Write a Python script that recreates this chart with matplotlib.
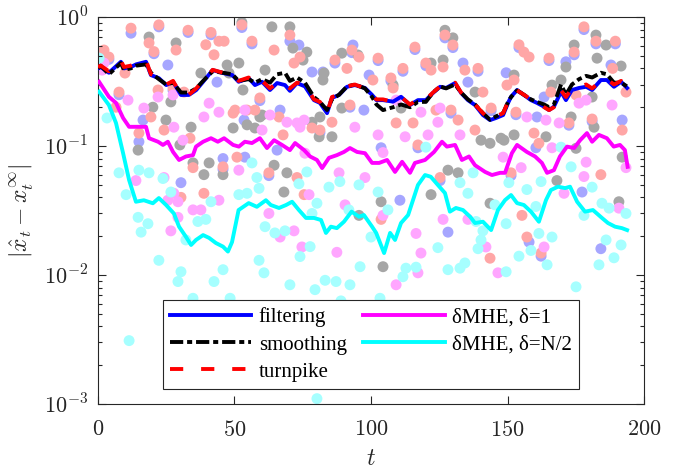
import numpy as np
import matplotlib
matplotlib.use('Agg')
import matplotlib.pyplot as plt
from matplotlib.ticker import FixedLocator, LogLocator, FuncFormatter, NullFormatter
from matplotlib.lines import Line2D
from matplotlib.font_manager import FontProperties

# ---------------- data ----------------
t_top = [0, 1, 4, 8.4, 9.5, 12, 14, 17.6, 19.4, 22.3, 25, 27.5, 30.4, 33.3, 36,
         38.5, 42, 45.8, 49.2, 51.5, 55.2, 57.5, 60.1, 63, 65.6, 68.5, 70.3, 72.9,
         75.8, 79.1, 81.3, 83.9, 85.7, 88.3, 91.2, 94.1, 97.8, 100.4, 102, 104.4,
         108.1, 111, 114.3, 117.2, 120.1, 122.7, 125.3, 127.5, 130.8, 133, 135.5,
         138.1, 141, 143.6, 145.8, 148.4, 150.2, 151.3, 153.5, 156, 158.6, 160.8,
         163.4, 165.2, 167, 169.6, 171.4, 173.6, 176.2, 178.8, 181, 184.2, 186.4,
         189, 191.6, 193.8]
filtering = [0.40, 0.41, 0.37, 0.45, 0.40, 0.41, 0.43, 0.45, 0.355, 0.336,
             0.297, 0.315, 0.249, 0.249, 0.272, 0.315, 0.388, 0.368, 0.355, 0.315,
             0.336, 0.297, 0.315, 0.272, 0.308, 0.297, 0.268, 0.308, 0.29, 0.227,
             0.216, 0.18, 0.236, 0.249, 0.288, 0.297, 0.282, 0.249, 0.227, 0.227,
             0.221, 0.241, 0.208, 0.227, 0.227, 0.258, 0.288, 0.282, 0.308, 0.258,
             0.227, 0.208, 0.174, 0.159, 0.165, 0.174, 0.216, 0.241, 0.272, 0.249,
             0.227, 0.216, 0.202, 0.190, 0.202, 0.264, 0.227, 0.272, 0.282, 0.288,
             0.272, 0.325, 0.325, 0.288, 0.315, 0.282]
smoothing = [0.40, 0.42, 0.36, 0.44, 0.39, 0.40, 0.42, 0.43, 0.37, 0.33,
             0.30, 0.31, 0.26, 0.26, 0.28, 0.32, 0.38, 0.37, 0.36, 0.32,
             0.33, 0.31, 0.33, 0.31, 0.36, 0.37, 0.32, 0.34, 0.31, 0.24,
             0.22, 0.19, 0.23, 0.25, 0.29, 0.30, 0.28, 0.24, 0.21, 0.19,
             0.20, 0.21, 0.20, 0.22, 0.22, 0.26, 0.29, 0.28, 0.30, 0.26,
             0.23, 0.21, 0.18, 0.16, 0.17, 0.18, 0.22, 0.24, 0.27, 0.25,
             0.23, 0.22, 0.21, 0.20, 0.21, 0.30, 0.25, 0.30, 0.33, 0.35,
             0.34, 0.37, 0.36, 0.31, 0.31, 0.29]
turnpike = [0.41, 0.42, 0.38, 0.46, 0.41, 0.42, 0.44, 0.46, 0.36, 0.34,
            0.30, 0.32, 0.25, 0.25, 0.28, 0.32, 0.39, 0.37, 0.36, 0.32,
            0.34, 0.30, 0.32, 0.28, 0.31, 0.30, 0.28, 0.31, 0.30, 0.23,
            0.22, 0.18, 0.24, 0.25, 0.29, 0.30, 0.28, 0.25, 0.23, 0.23,
            0.22, 0.24, 0.21, 0.23, 0.23, 0.26, 0.29, 0.28, 0.31, 0.26,
            0.23, 0.21, 0.18, 0.16, 0.17, 0.18, 0.22, 0.24, 0.27, 0.25,
            0.23, 0.22, 0.20, 0.19, 0.20, 0.27, 0.24, 0.28, 0.29, 0.30,
            0.28, 0.32, 0.33, 0.30, 0.32, 0.29]

t_d1 = [0.4, 4, 6.6, 9.2, 11.4, 15, 17.6, 18.7, 22, 23.8, 25.6, 27.5, 29.7, 32.2,
        34.8, 35.9, 38.5, 41.4, 43.9, 46.2, 49.5, 51.6, 53.8, 56.4, 59.3, 61.9,
        64.5, 67.4, 70.3, 72.2, 75.5, 77.7, 80.2, 82.1, 84.6, 87.5, 90.1, 92.3,
        94.9, 97.8, 100.4, 103, 105.9, 108.8, 111.4, 114.3, 116.1, 119.8, 123.1,
        126, 127.8, 130.8, 133.3, 135.9, 138.1, 141.8, 144.3, 147.3, 149.1, 151.6,
        153.5, 157.1, 160.1, 162.6, 164.5, 167, 169.2, 171.8, 174.4, 176.6, 179.1,
        181, 183.5, 186.4, 188.9, 191.2, 193, 194]
mhe_d1 = [0.315, 0.241, 0.216, 0.165, 0.141, 0.141, 0.141, 0.115, 0.108, 0.102,
          0.108, 0.090, 0.078, 0.083, 0.085, 0.099, 0.108, 0.115, 0.108, 0.115,
          0.102, 0.099, 0.108, 0.1055, 0.115, 0.0965, 0.111, 0.102, 0.093, 0.1055,
          0.093, 0.083, 0.078, 0.0675, 0.081, 0.085, 0.090, 0.0965, 0.090, 0.088,
          0.074, 0.074, 0.078, 0.063, 0.0755, 0.062, 0.074, 0.078, 0.090, 0.108,
          0.099, 0.102, 0.078, 0.083, 0.071, 0.063, 0.0596, 0.062, 0.062, 0.088,
          0.102, 0.090, 0.083, 0.074, 0.062, 0.065, 0.083, 0.099, 0.0965, 0.111,
          0.126, 0.108, 0.122, 0.115, 0.099, 0.102, 0.093, 0.069]

t_dN = [0.4, 4, 6.6, 9.2, 11.4, 13.9, 16.8, 20.1, 22.3, 24.9, 27.8, 29.7, 32.2,
        34.1, 35.9, 38.5, 40.7, 43.2, 45.8, 47.6, 49.1, 51.5, 55.2, 58.2, 61.5,
        63.3, 66.3, 68.9, 71.1, 73.6, 76.2, 79.1, 81.7, 83.5, 85.3, 87.5, 90.1,
        92.9, 95.6, 97.4, 100.4, 101.9, 104.8, 107, 108.8, 111, 113.6, 117.2,
        119.8, 121.9, 124.5, 127.1, 128.9, 131.1, 133.7, 136.3, 138.1, 141, 144,
        146.5, 149.1, 151.3, 153.5, 156, 158.6, 161.5, 164.1, 165.9, 168.5, 171.1,
        172.9, 175.5, 178.4, 181.3, 184.6, 186.8, 189.4, 191.9, 193.8]
mhe_dN = [0.264, 0.208, 0.151, 0.088, 0.0545, 0.037, 0.038, 0.036, 0.0395, 0.035,
          0.030, 0.0237, 0.0198, 0.0171, 0.0187, 0.0204, 0.0194, 0.0177, 0.0166,
          0.0152, 0.018, 0.0319, 0.0361, 0.0338, 0.038, 0.0349, 0.0331, 0.0349,
          0.037, 0.0319, 0.0277, 0.0277, 0.0267, 0.0212, 0.0237, 0.0231, 0.0259,
          0.031, 0.0283, 0.0292, 0.0237, 0.0212, 0.0148, 0.0212, 0.0187, 0.0253,
          0.0292, 0.0499, 0.0596, 0.0578, 0.0499, 0.0432, 0.031, 0.0331, 0.0319,
          0.0283, 0.0253, 0.0259, 0.0223, 0.0319, 0.0381, 0.0417, 0.0361, 0.0349,
          0.031, 0.0259, 0.0381, 0.0456, 0.0484, 0.0472, 0.0484, 0.037, 0.031,
          0.0319, 0.0277, 0.0253, 0.0237, 0.0231, 0.0223]

# instantaneous errors (dots): (t, |error|)
filt_dots = [(16.5, 0.159), (15, 0.108), (30.4, 0.052), (73.6, 0.607), (78.4, 0.375),
             (99.3, 0.355), (97.4, 0.19), (66.7, 0.19), (53.5, 0.159), (53.8, 0.082),
             (65.6, 0.093), (103.7, 0.097), (110.6, 0.038), (128.2, 0.0215),
             (160.8, 0.168), (163.4, 0.24), (192, 0.159), (160.4, 0.097), (177.3, 0.044),
             (157.9, 0.018), (184.2, 0.016), (93.4, 0.607), (25.6, 0.425), (43.6, 0.313),
             (82.4, 0.375), (45.8, 0.08), (70.3, 0.65), (12.1, 0.75), (149.5, 0.37),
             (135.5, 0.313), (133.7, 0.44), (171.4, 0.45), (187.9, 0.425),
             (22.3, 0.84), (33, 0.76), (41.4, 0.73), (52.7, 0.83), (56.4, 0.62),
             (86.8, 0.44), (93, 0.53), (102.6, 0.46), (111.7, 0.38), (116.1, 0.56),
             (120.1, 0.42), (127.1, 0.69), (130, 0.58), (139.2, 0.38), (154.2, 0.58),
             (165.2, 0.46), (178, 0.80), (182.4, 0.62), (189.5, 0.62), (174.4, 0.51),
             (4, 0.47), (20.5, 0.52), (59.3, 0.225), (81.3, 0.127), (92.3, 0.2),
             (107.3, 0.32), (129.3, 0.18), (144, 0.188), (153.1, 0.175), (172.5, 0.145),
             (181, 0.155), (151.3, 0.059), (162.3, 0.014), (125.3, 0.054), (117.2, 0.097),
             (45.8, 0.066), (62.6, 0.059), (7.7, 0.25), (27.5, 0.27)]
smooth_dots = [(18.7, 0.70), (28.6, 0.63), (37.7, 0.368), (48, 0.368), (26.7, 0.22),
               (20.1, 0.20), (24.9, 0.159), (34.1, 0.14), (49.5, 0.138), (14.7, 0.093),
               (34.8, 0.074), (38.8, 0.060), (45.8, 0.060), (40.7, 0.074), (63.7, 0.84),
               (70.3, 0.84), (76.5, 0.535), (51.6, 0.44), (89.3, 0.525), (82.8, 0.368),
               (61.2, 0.388), (59.3, 0.168), (54.6, 0.146), (57.5, 0.138), (78.4, 0.153),
               (81, 0.118), (85.7, 0.118), (89.3, 0.197), (64.5, 0.071), (69.2, 0.062),
               (68.1, 0.044), (95.6, 0.029), (127.1, 0.79), (130, 0.69), (122, 0.44),
               (126.4, 0.464), (108.1, 0.297), (138.1, 0.262), (111, 0.197),
               (140.3, 0.111), (143.6, 0.105), (147.6, 0.115), (128.2, 0.065),
               (131.9, 0.062), (103.7, 0.037), (122, 0.042), (143.6, 0.036),
               (104.4, 0.0116), (182.4, 0.725), (186.1, 0.607), (174.4, 0.607),
               (171.4, 0.41), (182.8, 0.48), (191.6, 0.417), (152.4, 0.355),
               (169.6, 0.325), (166.3, 0.297), (181, 0.24), (173.3, 0.168),
               (181.7, 0.14), (152.4, 0.122), (164.1, 0.118), (148.7, 0.111),
               (175.1, 0.096), (192, 0.082), (168.1, 0.054), (190.8, 0.037),
               (52.7, 0.91), (53.1, 0.272), (30, 0.102), (60.1, 0.174), (81.3, 0.168),
               (47.3, 0.425), (75.1, 0.464), (71.4, 0.575), (82.4, 0.325), (95.2, 0.508)]
turn_dots = [(12.1, 0.82), (22.3, 0.87), (33, 0.79), (18.7, 0.63), (28.6, 0.555),
             (41.4, 0.76), (39.5, 0.61), (44.3, 0.65), (46.2, 0.65), (2.2, 0.555),
             (4, 0.49), (20.5, 0.54), (42.5, 0.51), (7.7, 0.262), (22, 0.272),
             (6.6, 0.20), (31.5, 0.262), (19.4, 0.168), (15, 0.126), (24.2, 0.133),
             (45.8, 0.069), (34.8, 0.068), (30.4, 0.040), (38.8, 0.043), (52.7, 0.87),
             (56.4, 0.65), (64.5, 0.555), (70.3, 0.725), (71.8, 0.44), (74, 0.49),
             (86.8, 0.464), (93, 0.555), (95.6, 0.49), (91.2, 0.40), (59.3, 0.236),
             (50.2, 0.19), (54.6, 0.19), (57.5, 0.19), (66.3, 0.168), (81.3, 0.133),
             (85.7, 0.153), (92.3, 0.208), (62.6, 0.062), (72.9, 0.057), (75.5, 0.042),
             (127.1, 0.725), (130, 0.607), (116.1, 0.585), (102.6, 0.48), (120.1, 0.44),
             (126.4, 0.41), (122, 0.388), (111.7, 0.40), (134.4, 0.388), (139.2, 0.40),
             (141, 0.262), (100.7, 0.325), (107.3, 0.337), (108.1, 0.282), (129.3, 0.19),
             (131.9, 0.159), (138.1, 0.133), (144, 0.197), (109.2, 0.151), (115.4, 0.151),
             (123.8, 0.19), (117.2, 0.102), (125.3, 0.057), (103.7, 0.027),
             (143.6, 0.0135), (178, 0.84), (182.4, 0.65), (189.5, 0.65), (154.2, 0.61),
             (156, 0.535), (157.9, 0.49), (165.2, 0.48), (174.4, 0.535), (188.5, 0.40),
             (149.8, 0.297), (152.4, 0.325), (165.9, 0.262), (175.1, 0.249),
             (193.4, 0.262), (153.1, 0.183), (172.5, 0.151), (181, 0.162), (192, 0.133),
             (159.7, 0.126), (161.5, 0.105), (184.2, 0.060), (151.3, 0.062),
             (155.3, 0.029), (157.1, 0.0197), (162.3, 0.0148), (9.9, 0.368),
             (27.5, 0.282), (49.5, 0.18), (33.7, 0.115), (50.9, 0.082), (78.4, 0.138),
             (67.8, 0.122)]
d1_dots = [(1.5, 0.388), (2.2, 0.44), (22, 0.24), (11, 0.227), (27.5, 0.249),
           (40.7, 0.215), (38.8, 0.168), (16.8, 0.197), (44.3, 0.183), (27.8, 0.14),
           (31.1, 0.111), (24.2, 0.057), (13.9, 0.054), (27.8, 0.043), (25.6, 0.038),
           (29.3, 0.037), (44.3, 0.038), (34.8, 0.032), (37.7, 0.032), (29.3, 0.028),
           (26.7, 0.022), (63, 0.174), (60.1, 0.133), (69.2, 0.153), (72.9, 0.151),
           (75.5, 0.159), (94.1, 0.14), (75.8, 0.088), (51.6, 0.065), (88.3, 0.062),
           (97.8, 0.057), (77.3, 0.042), (62.6, 0.030), (90.5, 0.035), (71.8, 0.022),
           (66.7, 0.0197), (74.7, 0.0165), (87.5, 0.015), (109.2, 0.227),
           (118.3, 0.183), (125.3, 0.197), (112.5, 0.118), (102.6, 0.122),
           (120.9, 0.122), (124.5, 0.153), (132.6, 0.122), (104.4, 0.089),
           (148.4, 0.082), (126.4, 0.027), (135.5, 0.027), (104.4, 0.029),
           (142.1, 0.0165), (116.5, 0.021), (118.3, 0.0148), (117.2, 0.0104),
           (109.2, 0.0084), (146.5, 0.0104), (178.8, 0.227), (157.1, 0.168),
           (164.1, 0.159), (168.9, 0.151), (176.2, 0.215), (188.3, 0.208),
           (166.3, 0.097), (178.8, 0.075), (193.4, 0.068), (155, 0.068), (178, 0.058),
           (190.8, 0.033), (170.7, 0.043), (163.4, 0.0165), (53.8, 0.19), (74, 0.14)]
dN_dots = [(0.4, 0.48), (3.3, 0.165), (18.7, 0.062), (23.8, 0.056), (7.7, 0.062),
           (15, 0.065), (10.3, 0.042), (26.7, 0.044), (41.4, 0.037), (36.6, 0.026),
           (39.5, 0.027), (14.7, 0.028), (15.8, 0.0215), (18.3, 0.025), (32.2, 0.0187),
           (22.3, 0.013), (30.4, 0.0106), (42.5, 0.0089), (45.8, 0.011), (58.2, 0.057),
           (73.6, 0.051), (76.5, 0.063), (95.6, 0.05), (84.6, 0.048), (88.6, 0.053),
           (51.6, 0.042), (54.6, 0.043), (59, 0.047), (80.2, 0.036), (91.9, 0.032),
           (78.4, 0.030), (61.2, 0.0237), (64.8, 0.0212), (68.5, 0.022), (74, 0.0139),
           (77.7, 0.0166), (59, 0.013), (60.8, 0.0104), (96, 0.0116), (70.3, 0.0084),
           (83.2, 0.0091), (92.3, 0.0084), (120.1, 0.098), (137.4, 0.062),
           (132.6, 0.052), (102.6, 0.044), (135.5, 0.043), (145.4, 0.035),
           (106.2, 0.032), (138.5, 0.026), (141, 0.022), (140.3, 0.0187), (100, 0.0197),
           (124.5, 0.0163), (139.2, 0.016), (112.8, 0.0113), (116.5, 0.0115),
           (111.7, 0.0097), (128.2, 0.011), (132.6, 0.0113), (134.4, 0.0124),
           (169.6, 0.098), (173.3, 0.069), (181, 0.048), (162.3, 0.053), (150.5, 0.052),
           (157.1, 0.046), (184.6, 0.036), (193.4, 0.030), (160.4, 0.034), (178, 0.029),
           (187.2, 0.033), (149.5, 0.025), (161.5, 0.021), (166.3, 0.0197),
           (186.1, 0.0187), (191.6, 0.0171), (154.2, 0.014), (158.6, 0.0155),
           (189, 0.0136), (149.5, 0.0106), (164.5, 0.012), (183.5, 0.012),
           (175.1, 0.0081), (29.3, 0.0089), (34.8, 0.0066), (48.4, 0.0066),
           (11.4, 0.0031), (79.5, 0.0077), (87.2, 0.0089), (89, 0.0063),
           (103.3, 0.0066), (80.2, 0.0011), (56.4, 0.074)]

labels = ['filtering', 'smoothing', 'turnpike', 'δMHE, δ=1', 'δMHE, δ=N/2']
x_ticks = [0, 50, 100, 150, 200]
y_ticks = [1e-3, 1e-2, 1e-1, 1e0]

# ---------------- plotting ----------------
plt.rcParams['font.family'] = ['Liberation Serif', 'DejaVu Serif']
plt.rcParams['mathtext.fontset'] = 'cm'

fig = plt.figure(figsize=(6.89, 4.73), dpi=100)
ax = fig.add_axes([0.1422, 0.1459, 0.7925, 0.818])

dot_cols = ['#a6a6ff', '#a6a6a6', '#ffa6a6', '#ffa6ff', '#a6ffff']
for k, dots in enumerate([filt_dots, smooth_dots, turn_dots, d1_dots, dN_dots]):
    arr = np.array(dots)
    ax.scatter(arr[:, 0], arr[:, 1], s=62, c=dot_cols[k], edgecolors='none',
               zorder=1 + k * 0.1)

lw = 2.8
ax.plot(t_top, filtering, color='#0000ff', lw=lw, zorder=3)
ax.plot(t_top, smoothing, color='black', lw=lw, dashes=[3.4, 1.0, 1.3, 1.0], zorder=3.1)
ax.plot(t_top, turnpike, color='#ff0000', lw=lw, dashes=[3.4, 4.6], zorder=3.2)
ax.plot(t_d1, mhe_d1, color='#ff00ff', lw=lw, zorder=3.3)
ax.plot(t_dN, mhe_dN, color='#00ffff', lw=lw, zorder=3.4)

ax.set_yscale('log')
ax.set_xlim(0, 200)
ax.set_ylim(1e-3, 1)
ax.xaxis.set_major_locator(FixedLocator(x_ticks))
ax.xaxis.set_major_formatter(FuncFormatter(lambda v, p: r'$%d$' % int(round(v))))
ax.yaxis.set_major_locator(FixedLocator(y_ticks))
ax.yaxis.set_minor_locator(LogLocator(base=10, subs=np.arange(2, 10), numticks=20))
ax.yaxis.set_minor_formatter(NullFormatter())
ax.yaxis.set_major_formatter(FuncFormatter(lambda v, p: r'$10^{%d}$' % int(round(np.log10(v)))))
ax.tick_params(which='both', direction='in', top=True, right=True, colors='#262626',
               labelcolor='#262626', labelsize=16, width=0.8)
ax.tick_params(axis='x', which='major', length=6, pad=12)
ax.tick_params(axis='y', which='major', length=6, pad=7)
ax.tick_params(which='minor', length=3)
for sp in ax.spines.values():
    sp.set_color('#262626')
    sp.set_linewidth(0.8)

ax.set_xlabel(r'$t$', fontsize=17, color='#262626', labelpad=6)
ax.set_ylabel(r'$|\hat{x}_t - x_t^\infty|$', fontsize=17, color='#262626', labelpad=6)

handles = [Line2D([], [], color='#0000ff', lw=lw),
           Line2D([], [], color='black', lw=lw, dashes=[3.4, 1.0, 1.3, 1.0]),
           Line2D([], [], color='#ff0000', lw=lw, dashes=[3.4, 4.6]),
           Line2D([], [], color='#ff00ff', lw=lw),
           Line2D([], [], color='#00ffff', lw=lw)]
leg_font = FontProperties(family=['Liberation Serif', 'DejaVu Serif'], size=15)
leg = ax.legend(handles, labels, ncol=2, loc='lower center', bbox_to_anchor=(0.5, 0.039),
                prop=leg_font, frameon=True, fancybox=False, edgecolor='#262626',
                framealpha=1, handlelength=3.9, handletextpad=0.35, columnspacing=0.8,
                labelspacing=0.36, borderpad=0.35, borderaxespad=0)
leg.get_frame().set_linewidth(0.8)
leg.set_zorder(10)

fig.savefig('out.png', dpi=100)
